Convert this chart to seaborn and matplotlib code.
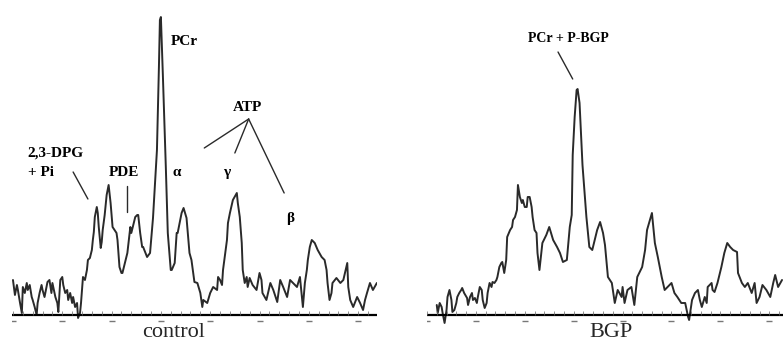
import numpy as np
import pandas as pd
import seaborn as sns
import matplotlib.pyplot as plt

# 31P spectra: chemical shift (ppm) and intensity (a.u.)
control_ppm = [15.0, 14.8, 14.6, 14.5, 14.3, 14.1, 14.0, 13.8, 13.6, 13.5, 13.3, 13.1, 13.0, 12.8,
               12.6, 12.5, 12.3, 12.1, 12.0, 11.8, 11.6, 11.5, 11.3, 11.1, 11.0, 10.7, 10.5, 10.4,
               10.2, 10.0, 9.9, 9.7, 9.5, 9.4, 9.2, 9.0, 8.9, 8.7, 8.5, 8.4, 8.2, 8.1, 8.0, 7.9,
               7.7, 7.5, 7.4, 7.2, 7.0, 6.9, 6.8, 6.7, 6.5, 6.4, 6.3, 6.1, 6.0, 5.9, 5.7, 5.5,
               5.3, 5.1, 4.9, 4.7, 4.5, 4.4, 4.2, 4.0, 3.9, 3.4, 3.1, 3.0, 2.6, 2.4, 2.3, 2.1,
               1.9, 1.8, 1.4, 1.1, 0.8, 0.4, 0.2, 0.1, 0.0, -0.2, -0.5, -0.7, -1.0, -1.1, -1.4,
               -1.6, -1.7, -2.1, -2.3, -2.6, -2.9, -3.1, -3.4, -3.7, -4.0, -4.2, -4.3, -4.7, -5.0,
               -5.3, -5.7, -5.8, -6.0, -6.2, -6.3, -6.7, -6.8, -7.0, -7.3, -7.7, -7.8, -8.0, -8.2,
               -8.3, -8.5, -8.7, -8.8, -9.0, -9.3, -9.7, -10.0, -10.2, -10.3, -10.7, -11.1, -11.4,
               -11.8, -12.1, -12.4, -12.8, -13.1, -13.4, -13.8, -14.1, -14.4, -14.6, -14.8, -14.9,
               -15.1, -15.3, -15.6, -15.9, -16.3, -16.6, -16.8, -16.9, -17.1, -17.3, -17.4, -17.8,
               -18.2, -18.5, -18.9, -19.0, -19.2, -19.5, -19.9, -20.2, -20.5, -20.7, -20.9, -21.2,
               -21.5, -21.9]
control_int = [35, 20, 30, 25, 13, 2, 28, 22, 32, 25, 30, 18, 15, 8,
               0, 12, 22, 30, 25, 18, 28, 33, 35, 22, 32, 18, 12, 3,
               35, 38, 30, 22, 25, 15, 22, 12, 18, 8, 12, -3, 2, 12, 25, 38,
               35, 45, 55, 57, 65, 75, 83, 98, 108, 102, 88, 67, 73, 85, 100, 120,
               130, 112, 88, 85, 82, 75, 48, 42, 42, 62, 88, 82, 98, 100, 100, 82,
               68, 68, 58, 62, 97, 165, 248, 295, 298, 240, 148, 82, 45, 45, 52,
               82, 82, 102, 107, 97, 62, 55, 33, 32, 22, 8, 15, 12, 22,
               28, 25, 38, 35, 30, 45, 75, 92, 102, 115, 122, 112, 98, 72,
               45, 32, 38, 28, 37, 30, 25, 42, 35, 22, 15, 32, 25,
               13, 35, 28, 18, 35, 32, 28, 38, 8, 32, 45, 55,
               68, 75, 72, 65, 58, 55, 45, 32, 15, 22, 32, 37,
               32, 35, 52, 28, 15, 8, 18, 12, 5, 15, 22, 32,
               25, 32]

bgp_ppm = [14.0, 13.9, 13.7, 13.5, 13.4, 13.2, 13.0, 12.9, 12.7, 12.5, 12.4, 12.2, 12.0, 11.9,
           11.7, 11.5, 11.4, 11.2, 10.9, 10.8, 10.6, 10.4, 10.3, 10.1, 9.9, 9.8, 9.6, 9.4,
           9.3, 9.1, 8.9, 8.8, 8.6, 8.4, 8.3, 8.1, 7.9, 7.8, 7.6, 7.4, 7.3, 7.1, 6.9, 6.8,
           6.5, 6.3, 6.2, 6.0, 5.8, 5.7, 5.5, 5.3, 5.2, 5.0, 4.8, 4.7, 4.5, 4.3, 4.2, 4.0,
           3.8, 3.7, 3.5, 3.2, 2.8, 2.5, 2.1, 1.7, 1.4, 1.1, 0.7, 0.4, 0.2, 0.1, -0.1, -0.3,
           -0.4, -0.6, -0.9, -1.3, -1.6, -1.9, -2.4, -2.7, -3.0, -3.2, -3.5, -3.9, -4.2, -4.5,
           -4.9, -5.0, -5.2, -5.5, -5.9, -6.2, -6.5, -7.0, -7.3, -7.5, -7.8, -8.0, -8.1, -8.3,
           -8.6, -9.0, -9.3, -9.6, -10.0, -10.3, -10.6, -11.0, -11.4, -11.7, -11.8, -12.1, -12.4,
           -12.7, -12.9, -13.1, -13.4, -13.6, -13.7, -14.1, -14.2, -14.4, -14.7, -15.1, -15.4,
           -15.7, -16.0, -16.3, -16.7, -16.8, -17.2, -17.5, -17.8, -18.2, -18.5, -18.7, -19.0,
           -19.3, -19.7, -20.1, -20.4, -20.6, -20.9, -21.3]
bgp_int = [10, 2, 12, 8, 2, -8, 5, 18, 25, 15, 3, 5, 12, 18,
           22, 25, 27, 22, 17, 10, 18, 22, 15, 17, 12, 18, 28, 25,
           15, 7, 12, 22, 32, 28, 33, 32, 35, 38, 48, 52, 53, 42, 55, 78,
           85, 88, 95, 98, 105, 130, 118, 112, 115, 108, 108, 118, 118, 108, 98, 85,
           82, 62, 45, 72, 80, 88, 75, 68, 62, 53, 55, 88, 100, 160, 198, 225,
           226, 212, 150, 98, 68, 65, 85, 93, 82, 70, 38, 32, 12, 25,
           18, 28, 12, 25, 28, 10, 38, 48, 65, 85, 95, 102, 92, 72,
           58, 38, 25, 28, 32, 22, 18, 12, 12, -2, -5, 15, 22,
           25, 15, 8, 18, 12, 28, 32, 25, 23, 32, 48, 62,
           72, 68, 65, 63, 42, 32, 28, 32, 22, 32, 12, 18,
           30, 25, 18, 32, 40, 28, 35]

major_ticks = [15, 10, 5, 0, -5, -10, -15, -20]

control = pd.DataFrame({'ppm': control_ppm, 'intensity': control_int})
bgp = pd.DataFrame({'ppm': bgp_ppm, 'intensity': bgp_int})

sns.set_style('white')
plt.rcParams['font.family'] = ['Liberation Serif', 'DejaVu Serif']

fig = plt.figure(figsize=(7.83, 3.45), dpi=100)
ax1 = fig.add_axes([0.0153, 0.058, 0.466, 0.913])
ax2 = fig.add_axes([0.5453, 0.058, 0.4547, 0.913])

line_color = '#2a2a2a'
for ax, df, lim in [(ax1, control, (15.1, -21.9)), (ax2, bgp, (15.0, -21.4))]:
    sns.lineplot(data=df, x='ppm', y='intensity', ax=ax, color=line_color,
                 lw=1.4, sort=False, estimator=None)
    ax.axhline(0, color='black', lw=1.6)
    # tick dashes under the axis line, minor marks every 1 ppm
    ax.plot(major_ticks, [-6] * len(major_ticks), ls='none', marker='_',
            ms=4, mew=1, color='#777777')
    minor = np.arange(-21, 16)
    ax.plot(minor, [1.5] * len(minor), ls='none', marker='|', ms=2.5,
            mew=0.5, color='#666666')
    ax.set_xlim(*lim)
    ax.set_ylim(-10, 305)
    ax.axis('off')

bold = dict(fontsize=11, fontweight='bold', color='black')

# control annotations
ax1.text(-2.4, 274, 'PCr', ha='center', va='center', **bold)
ax1.text(13.5, 162, '2,3-DPG', ha='left', va='center', **bold)
ax1.text(13.5, 142, '+ Pi', ha='left', va='center', **bold)
ax1.plot([8.9, 7.4], [143, 116], color=line_color, lw=1)
ax1.text(3.7, 142, 'PDE', ha='center', va='center', **bold)
ax1.plot([3.4, 3.4], [129, 103], color=line_color, lw=1)
ax1.text(-1.6, 142, 'α', ha='center', va='center', **bold)
ax1.text(-6.7, 142, 'γ', ha='center', va='center', **bold)
ax1.text(-8.8, 208, 'ATP', ha='center', va='center', **bold)
for end in [(-4.4, 167), (-7.5, 162), (-12.5, 122)]:
    ax1.plot([-8.9, end[0]], [196, end[1]], color=line_color, lw=1)
ax1.text(-13.1, 96, 'β', ha='center', va='center', **bold)

# BGP annotations
ax2.text(0.5, 277, 'PCr + P-BGP', ha='center', va='center',
         fontsize=10, fontweight='bold', color='black')
ax2.plot([1.6, 0.1], [263, 236], color=line_color, lw=1)

fig.text(0.222, 0.035, 'control', ha='center', va='center', fontsize=16)
fig.text(0.780, 0.035, 'BGP', ha='center', va='center', fontsize=16)

fig.savefig('out.png', dpi=100)
